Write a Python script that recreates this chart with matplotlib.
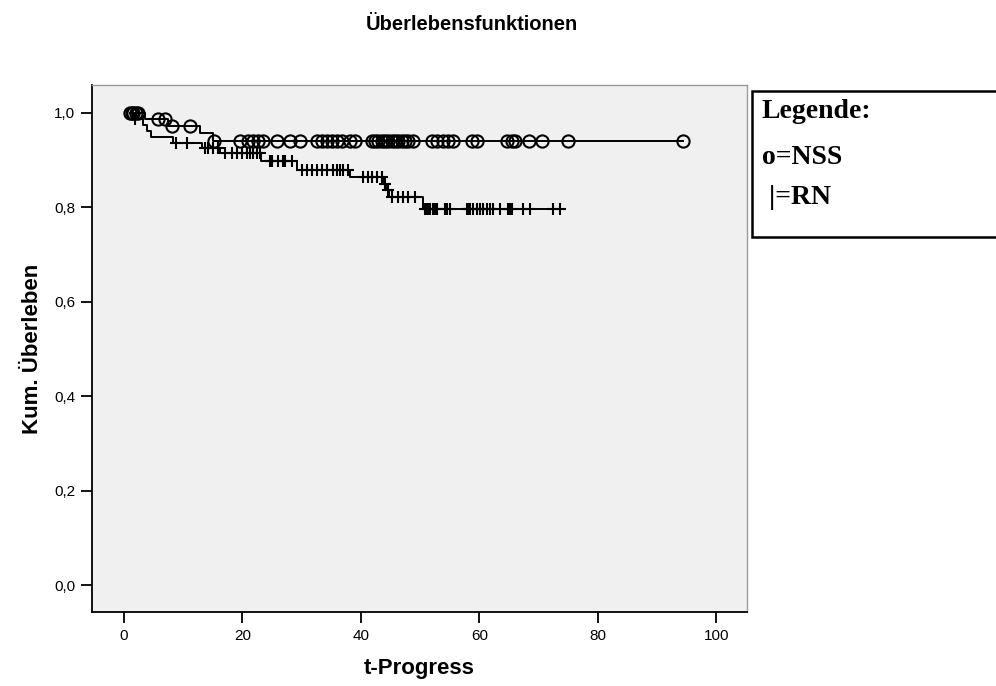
import numpy as np
import matplotlib
matplotlib.use("Agg")
import matplotlib.pyplot as plt
from matplotlib.patches import Rectangle

plt.rcParams['font.family'] = ['Liberation Sans', 'DejaVu Sans']

# Kaplan-Meier step curves: times where the survival level changes, and the level after it
nss_step_t = [1.0, 3.5, 7.4, 12.8, 15.0]
nss_step_s = [1.0, 0.986, 0.972, 0.958, 0.940]
nss_end_t = 94.4
nss_censor_t = [1.0, 1.3, 1.6, 2.0, 2.3, 5.8, 6.9, 8.1, 11.1,
                15.2, 19.6, 20.9, 21.8, 22.6, 23.5, 25.8, 28.0, 29.7, 32.6,
                33.4, 34.3, 35.1, 36.0, 36.8, 38.2, 39.0, 41.9, 42.4, 42.9,
                43.6, 44.1, 44.6, 45.3, 45.8, 46.3, 47.0, 47.5, 48.0, 48.8,
                52.0, 52.9, 53.9, 54.7, 55.6, 58.8, 59.6, 64.7, 65.5, 66.0,
                68.4, 70.6, 75.0, 94.4]

rn_step_t = [1.0, 1.6, 3.2, 3.9, 4.6, 8.3, 13.2, 16.2, 23.2, 29.2, 38.2,
             43.8, 44.2, 44.8, 50.5]
rn_step_s = [1.0, 0.987, 0.975, 0.962, 0.949, 0.937, 0.926, 0.915, 0.898,
             0.880, 0.864, 0.850, 0.836, 0.822, 0.797]
rn_end_t = 73.6
rn_censor_t = [1.9, 8.8, 10.6, 13.7, 14.2, 15.0, 15.9, 17.1, 18.2, 19.1, 19.9,
               20.8, 21.3, 21.8, 22.5, 23.0, 24.7, 25.0, 26.0, 26.9, 27.2,
               28.4, 30.1, 30.9, 31.8, 32.6, 33.4, 34.3, 35.3, 36.0, 36.5,
               37.0, 37.8, 40.4, 41.2, 41.9, 42.7, 43.6, 44.0, 44.5, 45.3,
               46.3, 47.1, 48.0, 49.2, 50.8, 51.2, 51.4, 51.7, 52.2, 52.5,
               52.9, 54.2, 54.6, 55.0, 57.9, 58.1, 58.4, 58.9, 59.6, 60.1,
               60.6, 61.3, 61.8, 62.3, 63.5, 64.9, 65.2, 65.5, 67.4, 68.6,
               72.5, 73.6]

x_ticks = [0, 20, 40, 60, 80, 100]
y_ticks = [0.0, 0.2, 0.4, 0.6, 0.8, 1.0]
y_tick_labels = ['0,0', '0,2', '0,4', '0,6', '0,8', '1,0']


def level_at(step_t, step_s, t):
    idx = np.searchsorted(step_t, t, side='right') - 1
    return np.asarray(step_s)[np.clip(idx, 0, len(step_s) - 1)]


fig = plt.figure(figsize=(9.96, 6.86), dpi=100)
ax = fig.add_axes([92 / 996, 1 - 612 / 686, (747 - 92) / 996, (612 - 85) / 686])
ax.set_facecolor('#F0F0F0')

for st, ss, end, ct, mk, ms in [
        (nss_step_t, nss_step_s, nss_end_t, nss_censor_t, 'o', 8.8),
        (rn_step_t, rn_step_s, rn_end_t, rn_censor_t, '+', 8.0)]:
    ax.step(list(st) + [end], list(ss) + [ss[-1]], where='post',
            color='black', lw=1.4, zorder=3)
    ax.plot(ct, level_at(st, ss, ct), linestyle='none', marker=mk,
            markersize=ms, markerfacecolor='none', markeredgecolor='black',
            markeredgewidth=1.5, zorder=4)

ax.set_xlim(-5.4, 105.2)
ax.set_ylim(-0.057, 1.059)
ax.set_xticks(x_ticks)
ax.set_xticklabels([str(v) for v in x_ticks])
ax.set_yticks(y_ticks)
ax.set_yticklabels(y_tick_labels)
ax.tick_params(direction='out', length=8, width=1.3, color='black',
               labelsize=11, pad=4)
ax.tick_params(axis='x', pad=4)

for side in ('left', 'bottom'):
    ax.spines[side].set_color('black')
    ax.spines[side].set_linewidth(1.3)
for side in ('top', 'right'):
    ax.spines[side].set_color('#9A9A9A')
    ax.spines[side].set_linewidth(1.0)

ax.set_xlabel('t-Progress', fontsize=16, fontweight='bold', labelpad=11)
ax.set_ylabel('Kum. Überleben', fontsize=16, fontweight='bold', labelpad=8)

fig.text(472 / 996, 1 - 25 / 686, 'Überlebensfunktionen', ha='center',
         va='center', fontsize=14.5, fontweight='bold')

# Legend box at the right edge
fig.patches.append(Rectangle((752 / 996, 1 - 237 / 686), 260 / 996,
                             (237 - 91) / 686, transform=fig.transFigure,
                             facecolor='white', edgecolor='black',
                             linewidth=1.8))
serif = ['Liberation Serif', 'DejaVu Serif']
for y, txt in [(112, 'Legende:'), (158, 'o=NSS'), (198, ' |=RN')]:
    fig.text(762 / 996, 1 - y / 686, txt, ha='left', va='center',
             fontsize=20, fontweight='bold', family=serif)

fig.savefig('out.png', dpi=100, facecolor='white')
